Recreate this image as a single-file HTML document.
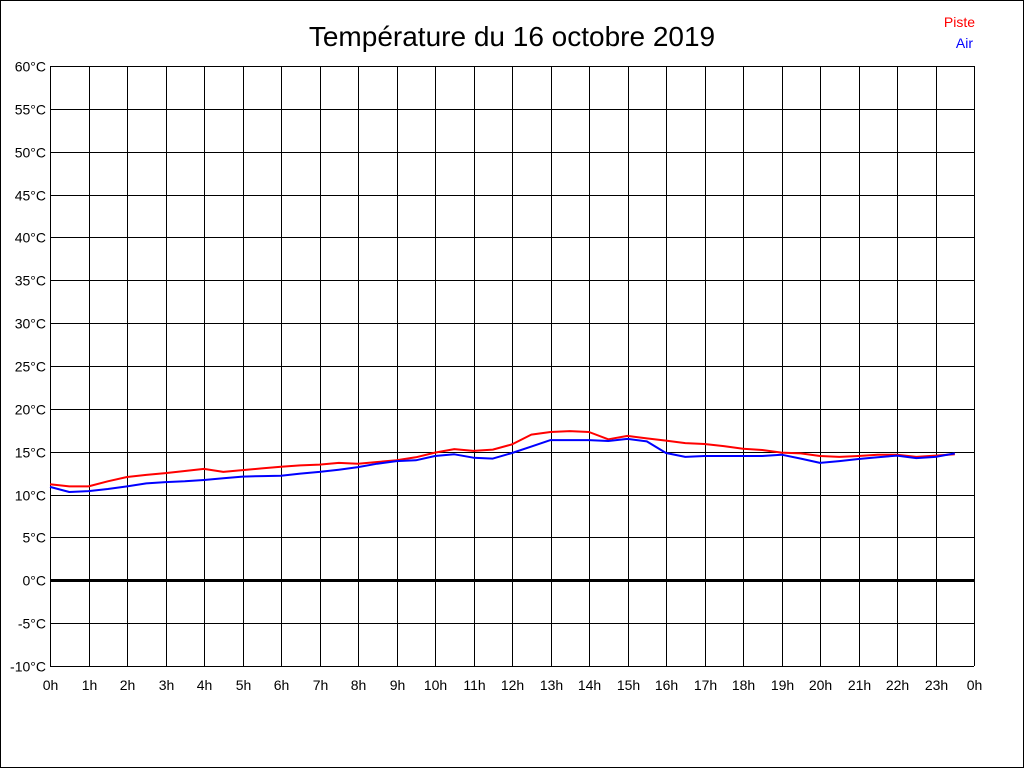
<!DOCTYPE html>
<html><head><meta charset="utf-8"><style>
html,body{margin:0;padding:0;background:#fff}
svg{display:block;font-family:"Liberation Sans",Arial,sans-serif}
</style></head><body>
<svg id="chart" width="1024" height="768">
<rect x="0.5" y="0.5" width="1023" height="767" fill="#fff" stroke="#000"/>
<text x="512" y="46" font-size="28" text-anchor="middle">Température du 16 octobre 2019</text>
<text x="975" y="27" font-size="14" fill="#ff0000" text-anchor="end">Piste</text>
<text x="973" y="48" font-size="14" fill="#0000ff" text-anchor="end">Air</text>
<g id="grid"></g><g id="lines"></g><g id="labels"></g>
</svg>
<script>
const hours = [0,0.5,1,1.5,2,2.5,3,3.5,4,4.5,5,5.5,6,6.5,7,7.5,8,8.5,9,9.5,10,10.5,11,11.5,12,12.5,13,13.5,14,14.5,15,15.5,16,16.5,17,17.5,18,18.5,19,19.5,20,20.5,21,21.5,22,22.5,23,23.5];
const piste = [11.2,10.95,10.95,11.55,12.05,12.3,12.5,12.75,13.0,12.65,12.85,13.05,13.25,13.4,13.5,13.7,13.6,13.8,14.0,14.35,14.9,15.3,15.1,15.25,15.85,17.0,17.3,17.4,17.3,16.45,16.85,16.55,16.3,16.0,15.9,15.65,15.35,15.2,14.9,14.8,14.5,14.4,14.5,14.65,14.65,14.4,14.55,14.7];
const air = [10.9,10.3,10.4,10.65,10.95,11.3,11.45,11.55,11.7,11.9,12.1,12.15,12.2,12.45,12.65,12.9,13.2,13.6,13.9,14.0,14.5,14.7,14.3,14.2,14.85,15.6,16.35,16.35,16.35,16.25,16.5,16.2,14.85,14.4,14.5,14.5,14.5,14.5,14.65,14.2,13.7,13.9,14.15,14.35,14.55,14.25,14.4,14.8];
const yTicks = [60,55,50,45,40,35,30,25,20,15,10,5,0,-5,-10];
const xTicks = [0,1,2,3,4,5,6,7,8,9,10,11,12,13,14,15,16,17,18,19,20,21,22,23,24];
const X0=50,X1=974,Y0=666,Y1=66,YMIN=-10,YMAX=60;
const xs=h=>X0+(X1-X0)*h/24;
const ys=t=>Y0-(Y0-Y1)*(t-YMIN)/(YMAX-YMIN);
const NS="http://www.w3.org/2000/svg";
const grid=document.getElementById('grid'),lines=document.getElementById('lines'),labels=document.getElementById('labels');
function mk(tag,attrs,parent){const e=document.createElementNS(NS,tag);for(const k in attrs)e.setAttribute(k,attrs[k]);parent.appendChild(e);return e;}
yTicks.forEach(t=>{
  const y=Math.round(ys(t))+0.5;
  const l=mk('line',{x1:X0,x2:X1,y1:y,y2:y,stroke:'#000','stroke-width':t===0?3:1},grid);
  
  
  const tx=mk('text',{x:46,y:y+5,'font-size':14,'text-anchor':'end',fill:'#000'},labels);
  tx.textContent=t+'°C';
  
  
});
xTicks.forEach(h=>{
  const x=Math.round(xs(h))+0.5;
  const l=mk('line',{x1:x,x2:x,y1:Y1,y2:Y0,stroke:'#000','stroke-width':1},grid);
  
  
  const tx=mk('text',{x:x,y:690,'font-size':14,'text-anchor':'middle',fill:'#000'},labels);
  tx.textContent=(h%24)+'h';
  
  
});
function series(vals,color,name){
  const p=mk('polyline',{points:vals.map((v,i)=>xs(hours[i]).toFixed(1)+','+ys(v).toFixed(1)).join(' '),fill:'none',stroke:color,'stroke-width':2,'stroke-linejoin':'round'},lines);
  
  
}
series(piste,'#ff0000','piste-line');
series(air,'#0000ff','air-line');
</script>
</body></html>
